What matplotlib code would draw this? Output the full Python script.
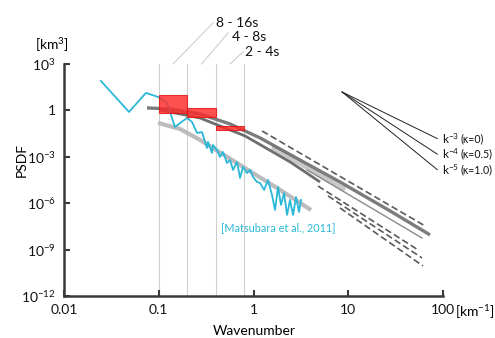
import numpy as np
import matplotlib
matplotlib.use("Agg")
import matplotlib.pyplot as plt
from matplotlib.patches import Rectangle

plt.rcParams['font.family'] = ['Lato', 'DejaVu Sans']
plt.rcParams['mathtext.fontset'] = 'custom'
plt.rcParams['mathtext.rm'] = 'Lato'
plt.rcParams['mathtext.it'] = 'Lato'
plt.rcParams['mathtext.default'] = 'regular'

# ---------------- data ----------------
# observed spectrum [Matsubara et al., 2011] (log10 wavenumber, log10 PSDF)
cyan_logk = [-1.610, -1.314, -1.135, -1.008, -0.913, -0.829, -0.702, -0.649, -0.596, -0.544,
             -0.491, -0.480, -0.438, -0.427, -0.385, -0.354, -0.322, -0.280, -0.248, -0.216,
             -0.174, -0.142, -0.111, -0.069, -0.037, -0.005, 0.037, 0.069, 0.111, 0.153,
             0.195, 0.227, 0.259, 0.290, 0.322, 0.354, 0.385, 0.417, 0.449, 0.480, 0.501]
cyan_logP = [1.90, -0.10, 1.13, 0.87, 0.48, -1.07, -0.49, -0.75, -1.46, -1.40,
             -2.43, -2.04, -2.75, -2.24, -2.56, -3.01, -2.69, -3.40, -3.21, -3.85,
             -3.33, -4.37, -3.66, -4.05, -3.85, -4.30, -4.63, -4.69, -5.14, -4.50,
             -5.47, -6.44, -4.95, -6.11, -5.34, -6.76, -5.79, -6.76, -5.60, -6.57, -5.79]

# smooth fit to observed spectrum
fit_logk = [-1.008, -0.776, -0.565, -0.142, 0.280, 0.607]
fit_logP = [-0.81, -1.20, -1.91, -3.53, -5.14, -6.44]

# model spectra (gray)
upper_logk = [-1.124, -0.881, -0.565, -0.248, 0.069, 0.491, 0.913, 1.441, 1.863]
upper_logP = [0.16, 0.09, -0.23, -0.88, -1.78, -3.21, -4.63, -6.50, -8.05]
lower_logk = [-0.987, -0.565, -0.090, 0.385, 0.702]
lower_logP = [0.03, -0.49, -1.65, -3.33, -4.63]

# straight segments: (logk0, logP0, logk1, logP1)
dashed_segments = [(0.681, -4.89, 1.736, -9.02),
                   (0.786, -5.53, 1.778, -9.54),
                   (0.913, -6.31, 1.789, -10.06),
                   (0.090, -1.33, 1.810, -7.47)]
thin_segment = (0.565, -3.85, 1.778, -8.25)
light_segment = (0.195, -2.37, 0.966, -5.14)

# period bands (red boxes)
band_k_lo = [0.1, 0.2, 0.4]
band_k_hi = [0.2, 0.4, 0.8]
band_P_lo = [0.68, 0.37, 0.054]
band_P_hi = [10.0, 1.45, 0.098]
band_labels = ["8 - 16s", "4 - 8s", "2 - 4s"]
band_label_k = [0.402, 0.593, 0.813]
band_label_P = [10**5.39, 10**4.49, 10**3.52]
band_leader_end_k = [0.374, 0.538, 0.775]
band_leader_end_P = [10**5.65, 10**5.0, 10**3.78]

# reference slopes
slope_k0 = 8.6
slope_P0 = 15.5
slope_k1 = 87.0
slope_exps = [3, 4, 5]
slope_kappa = ["0", "0.5", "1.0"]

xticks = [0.01, 0.1, 1, 10, 100]
xticklabels = ["0.01", "0.1", "1", "10", "100"]
yticks = [1e3, 1, 1e-3, 1e-6, 1e-9, 1e-12]
yticklabels = ["$10^{3}$", "1", "$10^{-3}$", "$10^{-6}$", "$10^{-9}$", "$10^{-12}$"]

# ---------------- plot ----------------
fig = plt.figure(figsize=(4.95, 3.38), dpi=100)
ax = fig.add_axes([0.1293, 0.1243, 0.7657, 0.6864])
ax.set_xscale('log')
ax.set_yscale('log')
ax.set_xlim(0.01, 100)
ax.set_ylim(1e-12, 1e3)

cyan = '#2bb8d8'
edges = sorted(set(band_k_lo + band_k_hi))
for kv in edges:
    ax.plot([kv, kv], [1e-12, 1e3], color='#cfcfcf', lw=0.8, zorder=1, clip_on=False)

def seg(s):
    return [10**s[0], 10**s[2]], [10**s[1], 10**s[3]]

# gray model lines
ax.plot(10**np.array(fit_logk), 10**np.array(fit_logP), color='#bcbcbc', lw=3.0,
        solid_capstyle='butt', zorder=2)
x, y = seg(light_segment)
ax.plot(x, y, color='#c8c8c8', lw=3.5, solid_capstyle='butt', zorder=2)
ax.plot(10**np.array(upper_logk), 10**np.array(upper_logP), color='#6e6e6e', lw=2.4,
        alpha=0.9, solid_capstyle='butt', zorder=3)
ax.plot(10**np.array(lower_logk), 10**np.array(lower_logP), color='#5e5e5e', lw=2.0,
        alpha=0.9, solid_capstyle='butt', zorder=3)
x, y = seg(thin_segment)
ax.plot(x, y, color='#8a8a8a', lw=1.0, zorder=3)
for s in dashed_segments:
    x, y = seg(s)
    ax.plot(x, y, color='#5a5a5a', lw=1.2, linestyle=(0, (4, 2)), zorder=3)

# observed spectrum
ax.plot(10**np.array(cyan_logk), 10**np.array(cyan_logP), color=cyan, lw=1.3, zorder=4)

# red period boxes
for klo, khi, plo, phi in zip(band_k_lo, band_k_hi, band_P_lo, band_P_hi):
    ax.add_patch(Rectangle((klo, plo), khi - klo, phi - plo, facecolor='#ff2a2a',
                           edgecolor='#e01010', lw=0.8, alpha=0.82, zorder=5))

# period labels with leaders
for klo, khi, lab, lk, lp, ek, ep in zip(band_k_lo, band_k_hi, band_labels, band_label_k,
                                         band_label_P, band_leader_end_k, band_leader_end_P):
    kc = np.sqrt(klo * khi)
    ax.plot([kc, ek], [1e3, ep], color='#cfcfcf', lw=0.8, clip_on=False, zorder=1)
    ax.text(lk, lp, lab, fontsize=10, ha='left', va='baseline', color='#111111',
            clip_on=False)

# slope fan
for n, kap in zip(slope_exps, slope_kappa):
    p1 = slope_P0 * (slope_k1 / slope_k0) ** (-n)
    ax.plot([slope_k0, slope_k1], [slope_P0, p1], color='#222222', lw=0.7, zorder=3,
            clip_on=False)
    ax.text(slope_k1 * 1.12, p1, "k$^{-%d}$" % n, fontsize=8.5, ha='left', va='center',
            clip_on=False, color='#111111')
    ax.text(slope_k1 * 1.76, p1, "(κ=%s)" % kap, fontsize=7.6, ha='left', va='center',
            clip_on=False, color='#111111')

ax.text(0.454, 10**-7.6, "[Matsubara et al., 2011]", color=cyan, fontsize=7.8,
        ha='left', va='center')

# axes styling
for sp in ['top', 'right']:
    ax.spines[sp].set_visible(False)
for sp in ['left', 'bottom']:
    ax.spines[sp].set_color('#3a3a3a')
    ax.spines[sp].set_linewidth(1.8)
ax.set_xticks(xticks)
ax.set_xticklabels(xticklabels)
ax.set_yticks(yticks)
ax.set_yticklabels(yticklabels)
ax.minorticks_off()
ax.tick_params(direction='in', length=4, width=1.5, color='#3a3a3a', labelsize=10,
               labelcolor='#111111', pad=6)

fig.text(455 / 495, 1 - 312 / 338, "[km$^{-1}$]", fontsize=10, ha='left', va='center')
fig.text(52 / 495, 1 - 45 / 338, "[km$^{3}$]", fontsize=10, ha='center', va='center')
fig.text(22 / 495, 1 - 160 / 338, "PSDF", fontsize=10, rotation=90, ha='center', va='center')
fig.text(254 / 495, 1 - 331 / 338, "Wavenumber", fontsize=10, ha='center', va='center')

fig.savefig("out.png", dpi=100)
